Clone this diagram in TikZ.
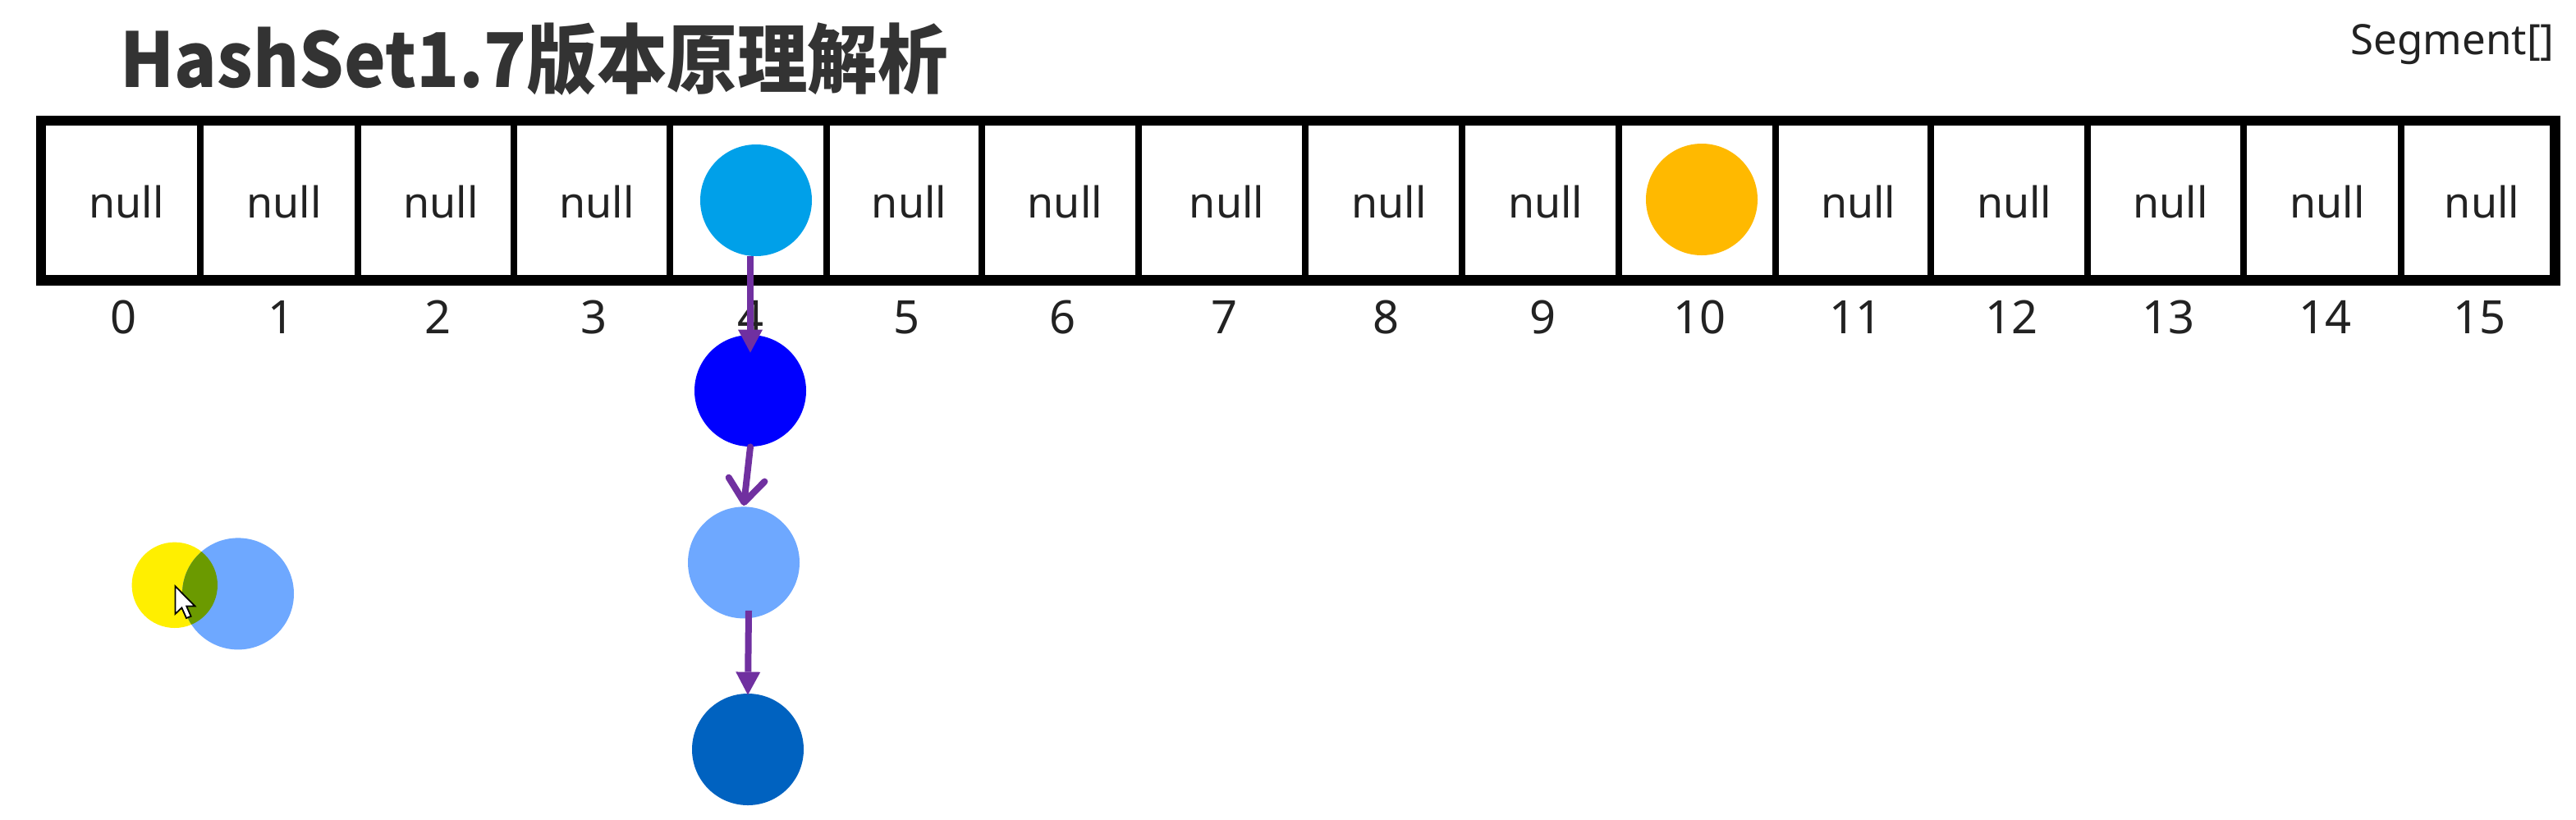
\documentclass[tikz,border=0pt]{standalone}
\usepackage{fontspec}
\usepackage{graphicx}
\setmainfont{Noto Sans}
\newfontfamily\cjk{Noto Sans CJK SC}
\usetikzlibrary{arrows.meta,calc}
\definecolor{titlegray}{HTML}{333333}
\definecolor{txtgray}{HTML}{222222}
\definecolor{headblue}{HTML}{00A0E9}
\definecolor{amber}{HTML}{FFB900}
\definecolor{pureblue}{HTML}{0000FF}
\definecolor{softblue}{HTML}{6EA8FF}
\definecolor{deepblue}{HTML}{0062C0}
\definecolor{lemon}{HTML}{FFEF00}
\definecolor{olivemix}{HTML}{6B9A00}
\definecolor{arrowpurple}{HTML}{7030A0}
\begin{document}
\begin{tikzpicture}[x=1pt,y=-1pt,
  cellbox/.style={draw=black, line width=4pt, fill=white, minimum height=95pt, inner sep=0pt},
  nulltext/.style={font=\fontsize{26}{26}\selectfont, text=txtgray, inner sep=0pt, anchor=base},
  idxtext/.style={font=\fontsize{28}{28}\selectfont, text=txtgray, inner sep=0pt, anchor=base},
  ball/.style={circle, inner sep=0pt, minimum size=68pt, draw=none},
  linkarrow/.style={draw=arrowpurple, line width=4pt},
]
\useasboundingbox (0,0) rectangle (1569,499);
\fill[white] (0,0) rectangle (1569,499);

% title
\node[anchor=base west, inner sep=0pt, text=titlegray, font=\cjk\bfseries\fontsize{46}{46}\selectfont] (title) at (73,53) {\scalebox{0.93}[1]{HashSet1.7版本原理解析}};
\node[anchor=base east, inner sep=0pt, text=txtgray, font=\fontsize{25.5}{25.5}\selectfont] (seg) at (1556,33) {Segment[]};

% cells
\foreach \i/\l/\r in {0/26/122,1/122/218,2/218/313,3/313/408,4/408/503.5,5/503.5/598,6/598/693.3,7/693.3/795.2,8/795.2/890.7,9/890.7/986,10/986/1081.6,11/1081.6/1176,12/1176/1271.6,13/1271.6/1366.6,14/1366.6/1462.4,15/1462.4/1555}{
  \pgfmathsetmacro\cx{(\l+\r)/2}
  \pgfmathsetmacro\cw{\r-\l}
  \node[cellbox, minimum width=\cw pt] (cell\i) at (\cx,122) {};
}
\draw[line width=4.5pt] (cell0.north west) rectangle (cell15.south east);

% null labels
\foreach \i in {0,1,2,3,5,6,7,8,9,11,12,13,14,15}{
  \node[nulltext] (null\i) at ([xshift=3pt,yshift=-10.5pt]cell\i.center) {null};
}
% indices
\foreach \i in {0,...,15}{
  \node[idxtext] (idx\i) at ([xshift=1.5pt,yshift=-81.3pt]cell\i.center) {\i};
}

% balls
\node[ball, fill=headblue] (b4) at (460.5,122) {};
\node[ball, fill=amber] (b10) at (1036.5,121.5) {};
\node[ball, fill=pureblue] (n1) at (457,238) {};
\node[ball, fill=softblue] (n2) at (453,342.7) {};
\node[ball, fill=deepblue] (n3) at (455.5,456.5) {};

% links
\draw[linkarrow, -{Triangle[length=14pt,width=15pt,line width=0pt]}] (n1 |- b4.south) -- ([yshift=-11pt]n1.north);
\draw[linkarrow, line cap=round, -{Straight Barb[length=14pt,width=22pt,round]}] (n1.south) -- ([yshift=0.5pt]n2.north);
\draw[linkarrow, -{Triangle[length=14pt,width=15pt,line width=0pt]}] ([xshift=3pt,yshift=5pt]n2.south) -- ([yshift=-1pt]n3.north);

% overlapping pair
\node[circle, inner sep=0pt, minimum size=52.2pt, fill=lemon] (ya) at (106.4,356.4) {};
\node[circle, inner sep=0pt, minimum size=68pt, fill=softblue] (yb) at (145,361.7) {};
\begin{scope}
  \clip (yb.center) circle[radius=34pt];
  \fill[olivemix] (ya.center) circle[radius=26.1pt];
\end{scope}

% mouse pointer
\coordinate (tip) at (106.7,357);
\draw[fill=white, draw=black, line width=0.9pt, line join=miter]
  (tip) -- ++(0,17) -- ++(4,-3.8) -- ++(2.8,6.3) -- ++(2.8,-1.1) -- ++(-2.7,-6.2) -- ++(5.1,0) -- cycle;
\end{tikzpicture}
\end{document}
